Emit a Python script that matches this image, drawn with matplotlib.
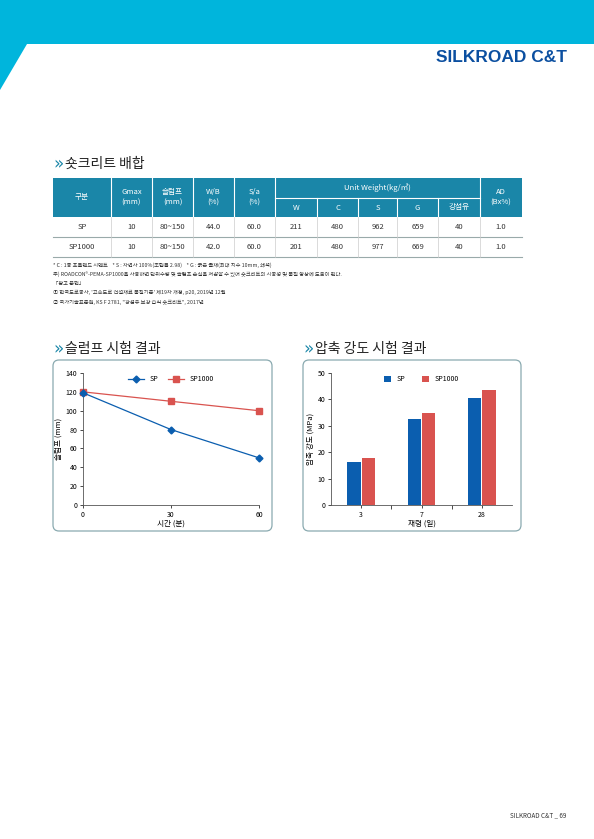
import matplotlib
matplotlib.use("Agg")
import matplotlib.pyplot as plt
from matplotlib.patches import Polygon, Rectangle, FancyBboxPatch
import numpy as np

plt.rcParams['font.family'] = ['Noto Sans CJK KR', 'DejaVu Sans']

# ---- data ----
table_rows = [
    ["SP", "10", "80~150", "44.0", "60.0", "211", "480", "962", "659", "40", "1.0"],
    ["SP1000", "10", "80~150", "42.0", "60.0", "201", "480", "977", "669", "40", "1.0"],
]
slump_time = [0, 30, 60]
slump_sp = [119, 80, 50]
slump_sp1000 = [120, 110, 100]
age_labels = ["3", "7", "28"]
strength_sp = [16.2, 32.4, 40.4]
strength_sp1000 = [17.8, 35.0, 43.5]

CYAN = "#00B5DC"
TEAL = "#1A86A8"
BLUE = "#0B5EAF"
RED = "#D9534F"

W, H = 594, 839
fig = plt.figure(figsize=(W/100, H/100), dpi=100)
bg = fig.add_axes([0, 0, 1, 1])
bg.set_xlim(0, W); bg.set_ylim(H, 0); bg.axis('off')

# banner
bg.add_patch(Polygon([[0, 0], [W, 0], [W, 44], [27, 44], [0, 90]], closed=True, color=CYAN, lw=0))
bg.text(567, 58, "SILKROAD C&T", ha='right', va='center', fontsize=12.5, fontweight='bold',
        color="#0B4FA0", family=['Liberation Sans', 'DejaVu Sans'])

def section(x, y, t):
    bg.text(x, y, "»", ha='left', va='center', fontsize=12, color=TEAL, family=['DejaVu Sans'])
    bg.text(x + 12, y, t, ha='left', va='center', fontsize=10, color="#222")

section(53, 164, "숏크리트 배합")

# table
cols = [53, 111, 152, 193, 234, 275, 317, 358, 397, 438, 480, 522]
ytop, ymid, yhb = 178, 198, 217
rows_y = [217, 237, 257]
bg.add_patch(Rectangle((cols[0], ytop), cols[-1]-cols[0], yhb-ytop, color=TEAL, lw=0))
for i, x in enumerate(cols[1:-1], start=1):
    y0 = ymid if 5 < i < 10 else ytop
    bg.plot([x, x], [y0, yhb], color='white', lw=0.8)
bg.plot([cols[5], cols[10]], [ymid, ymid], color='white', lw=0.8)
hdr = ["구분", "Gmax\n(mm)", "슬럼프\n(mm)", "W/B\n(%)", "S/a\n(%)"]
for i, t in enumerate(hdr):
    bg.text((cols[i]+cols[i+1])/2, (ytop+yhb)/2, t, ha='center', va='center', fontsize=5.5,
            color='white', linespacing=1.4)
bg.text((cols[5]+cols[10])/2, (ytop+ymid)/2, "Unit Weight(kg/㎥)", ha='center', va='center',
        fontsize=5.5, color='white')
for i, t in enumerate(["W", "C", "S", "G", "강섬유"]):
    bg.text((cols[5+i]+cols[6+i])/2, (ymid+yhb)/2, t, ha='center', va='center', fontsize=5.5, color='white')
bg.text((cols[10]+cols[11])/2, (ytop+yhb)/2, "AD\n(Bx%)", ha='center', va='center', fontsize=5.5,
        color='white', linespacing=1.4)
for r, row in enumerate(table_rows):
    yc = (rows_y[r]+rows_y[r+1])/2
    for i, v in enumerate(row):
        bg.text((cols[i]+cols[i+1])/2, yc, v, ha='center', va='center', fontsize=5.5, color='#333')
    bg.plot([cols[0], cols[-1]], [rows_y[r+1], rows_y[r+1]], color='#9aa', lw=0.8)
for x in cols[1:-1]:
    bg.plot([x, x], [rows_y[0], rows_y[-1]], color='#ccc', lw=0.5)

notes = ["* C : 1종 포틀랜드 시멘트    * S : 자연사 100%(조립률 2.98)    * G : 굵은 골재(최대 치수 10mm, 쇄석)",
         "주) ROADCON®-PEMA-SP1000을 사용하면 단위수량 및 슬럼프 손실을 저감할 수 있어 숏크리트의 시공성 및 품질 향상에 도움이 된다.",
         "「참고 문헌」",
         "① 한국도로공사, '고속도로 건설재료 품질기준' 제19차 개정, p20, 2019년 12월",
         "② 국가기술표준원, KS F 2781, \"강섬유 보강 습식 숏크리트\", 2017년"]
for i, t in enumerate(notes):
    bg.text(53, 265 + i*9.3, t, ha='left', va='center', fontsize=3.8, color='#333')

section(53, 349, "슬럼프 시험 결과")
section(303, 349, "압축 강도 시험 결과")

for x0, x1 in [(53, 272), (303, 521)]:
    bg.add_patch(FancyBboxPatch((x0, 360), x1-x0, 171, boxstyle="round,pad=0,rounding_size=6",
                                fc='white', ec='#8aaab0', lw=0.9))

def fax(x0, x1, ytopp, ybot):
    return fig.add_axes([x0/W, 1-ybot/H, (x1-x0)/W, (ybot-ytopp)/H])

# slump chart
ax1 = fax(83, 259, 373, 505)
ax1.plot(slump_time, slump_sp, color=BLUE, marker='D', ms=3.5, lw=0.9, label='SP', clip_on=False, zorder=3)
ax1.plot(slump_time, slump_sp1000, color=RED, marker='s', ms=4.5, lw=0.9, label='SP1000', clip_on=False, zorder=2)
ax1.set_xlim(0, 60); ax1.set_ylim(0, 140)
ax1.set_xticks(slump_time); ax1.set_yticks(range(0, 141, 20))
ax1.set_xlabel("시간 (분)", fontsize=5.5, labelpad=1)
ax1.set_ylabel("슬럼프 (mm)", fontsize=5.5, labelpad=2)
ax1.legend(loc='upper center', ncol=2, frameon=False, fontsize=5, bbox_to_anchor=(0.5, 1.03),
           handlelength=2.2, columnspacing=1.5)

# strength chart
ax2 = fax(331, 512, 373, 505)
x = np.arange(len(age_labels))
bw = 0.22
ax2.bar(x - bw/2 - 0.01, strength_sp, bw, color=BLUE, label='SP')
ax2.bar(x + bw/2 + 0.01, strength_sp1000, bw, color=RED, label='SP1000')
ax2.set_xlim(-0.5, 2.5); ax2.set_ylim(0, 50)
ax2.set_xticks(x); ax2.set_xticklabels(age_labels)
ax2.set_xticks([0.5, 1.5], minor=True)
ax2.tick_params(axis='x', which='major', length=0)
ax2.tick_params(axis='x', which='minor', length=3, width=0.5)
ax2.set_yticks(range(0, 51, 10))
ax2.set_xlabel("재령 (일)", fontsize=5.5, labelpad=1)
ax2.set_ylabel("압축 강도 (MPa)", fontsize=5.5, labelpad=2)
ax2.legend(loc='upper center', ncol=2, frameon=False, fontsize=5, bbox_to_anchor=(0.5, 1.03),
           handlelength=1, handleheight=1, columnspacing=2.5)

for ax in (ax1, ax2):
    for s in ('top', 'right'):
        ax.spines[s].set_visible(False)
    for s in ('left', 'bottom'):
        ax.spines[s].set_linewidth(0.6); ax.spines[s].set_color('#555')
    ax.tick_params(labelsize=5, width=0.5, length=2.5, pad=1.5)

bg.text(566, 815, "SILKROAD C&T _ 69", ha='right', va='center', fontsize=4.5, color='#333')

fig.savefig("out.png", dpi=100)
